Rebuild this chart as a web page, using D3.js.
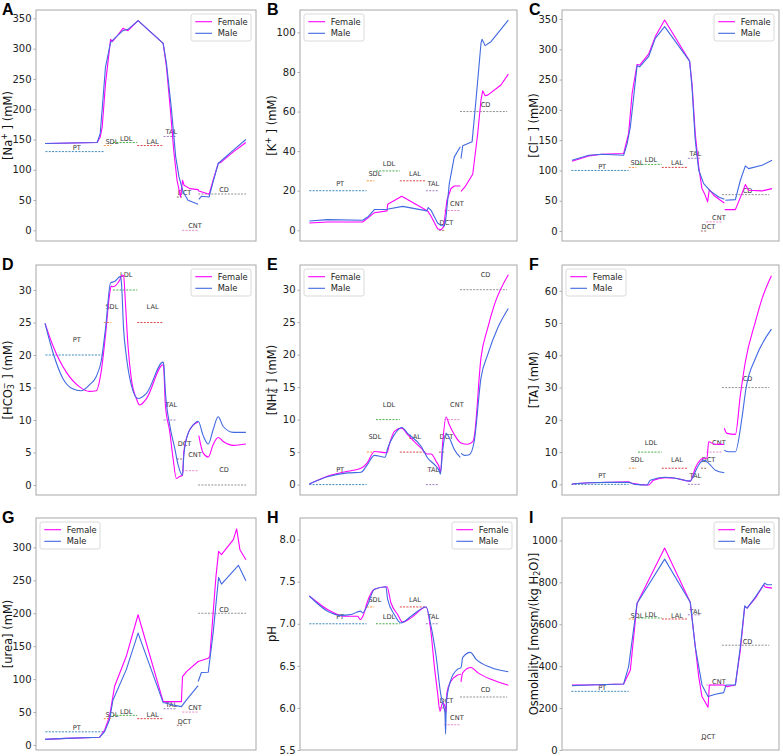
<!DOCTYPE html>
<html><head><meta charset="utf-8">
<script src="https://cdn.jsdelivr.net/npm/d3@7"></script>
<style>body{margin:0;background:#fff}</style>
</head><body><svg id="c" width="783" height="756"></svg>
<script>
// ---- nephron segments (x in % of axis width) ----
const segNames=["PT","SDL","LDL","LAL","TAL","DCT","CNT","CD"];
const segStart=[4.3,30.8,35.0,46.0,58.0,64.0,66.5,73.7];
const segEnd  =[30.7,34.2,46.0,58.0,64.0,66.5,73.7,95.5];
const segLabelX=[18.5,34.5,41.0,53.0,61.5,67.5,72.3,85.5];
const seriesNames=["Female","Male"];

// ---- A: Na+ ----
const naFemale=[[4.1,143.3],[27.8,145],[29.2,154],[30.1,171],[31.6,242.6],[33.9,315.3],[34.7,311.5],[37.2,322.5],[39.5,333.5],[41.8,329.7],[46.4,346.2],[57.8,308.7],[59.3,270],[61.1,198.5],[62.6,132],[64.1,82.7],[65.7,55.1],[66.6,82.7],[67.3,74.4],[69.9,68.9],[73.7,67.3],[74.0,65],[78.7,59.5],[80.5,82.7],[82.8,110.3],[84.3,113],[89.7,129.5],[95.4,145]];
const naMale=[[4.1,143.3],[27.8,145],[29.2,160],[30.4,215],[31.6,270],[33.9,310.4],[35.7,317],[39.5,329.7],[41.8,331.9],[46.4,346.2],[57.8,308.7],[59.3,275.6],[61.6,198.5],[63.5,121.3],[65.0,88.2],[66.9,63.4],[69.1,49.6],[73.7,43],null,[74.0,51.3],[75.2,56.2],[78.7,55.1],[80.5,80],[82.8,110.3],[89.7,132.3],[95.4,150]];
const naRef=[130,140,145,140,155,55,0,60];
const naTicks=[0,50,100,150,200,250,300,350];

// ---- B: K+ ----
const kFemale=[[4.3,3.7],[12.7,4.2],[28.9,4.2],[30.9,5.9],[34.3,8.9],[40.1,9.8],[40.4,13.2],[46.9,17.2],[58.8,9.8],[60.4,7.1],[63.4,0.8],[65.0,0.3],[66.2,1.7],[67.7,15.2],[69.6,21.1],[71.1,22.4],[73.9,22.4],null,[74.2,19.7],[76.0,21.9],[79.6,28.3],[81.9,48.9],[83.4,65.8],[84.2,70.5],[85.3,68],[86.5,68.3],[92.6,73.4],[96.0,78.9]];
const kMale=[[4.3,4.7],[12.7,5.4],[28.9,5.1],[31.2,6.7],[34.3,10.5],[40.1,10.6],[47.3,12.1],[58.5,9.8],[59.1,11.5],[60.4,10.1],[63.4,3.7],[65.0,2.4],[66.5,2.2],[67.3,6.7],[68.8,23.6],[71.1,37.1],[73.9,42.2],null,[74.2,36.3],[75.0,42.7],[79.3,44.7],[81.1,65.8],[83.4,94.4],[83.9,96.5],[85.3,93.3],[88.0,95.3],[96.0,106.2]];
const kRef=[20,25,30,25,20,0,10,60];
const kTicks=[0,20,40,60,80,100];

// ---- C: Cl- ----
const clFemale=[[4.6,115.2],[12.3,124],[18.4,126.8],[28.4,127.9],[30.7,161],[32.3,227],[34.6,275],[35.8,274],[39.9,292],[43.0,321],[47.3,348.4],[58.8,280.6],[59.9,243.7],[61.4,161],[63.0,105.8],[64.5,70],[65.7,61.7],[67.1,48],[67.9,68.4],[69.9,59],[73.0,50.7],[74.8,46.3],null,[75.0,35.3],[79.9,35.3],[82.9,61.7],[84.5,76.6],[86.0,67.3],[92.2,66.2],[96.8,70]];
const clMale=[[4.6,116.9],[12.3,125],[18.4,126.8],[28.4,125],[30.0,144],[31.5,172],[34.6,273],[35.8,271],[39.9,287.8],[43.0,318],[47.3,337.4],[58.8,280.6],[59.9,238],[61.4,150],[63.0,100.3],[65.3,78.3],[68.3,66.2],[72.2,56.2],[74.8,52.4],null,[75.3,50.7],[79.9,51.8],[82.2,83.8],[84.5,107.5],[86.0,103],[92.2,108.6],[96.8,116.9]];
const clRef=[100,105,110,105,120,0,15,60];
const clTicks=[0,50,100,150,200,250,300,350];

// ---- D: HCO3- ----
const hcoFemale=[[4.1,24.87],[7.6,21.5],[13.7,17.4],[19.8,15.1],[24.3,14.4],[27.4,14.5],[29.6,17.4],[31.6,23.1],[33.4,29.2],[34.2,30.6],[35.0,30.5],[38.0,31.5],[39.2,32.3],[39.8,32.2],[40.7,27.7],[41.8,21.5],[43.3,16.4],[45.6,13.3],[47.1,12.3],[50.2,13.3],[57.8,18.5],[58.1,17.9],[58.8,12.3],[60.8,8.2],[62.3,4.1],[63.8,1.0],[65.3,1.3],[66.6,1.5],[67.2,5.1],[69.1,7.9],[71.4,9.2],[73.7,9.7],null,[74.0,7.6],[76.0,4.9],[78.3,4.3],[80.5,6.2],[82.8,7.3],[85.1,6.7],[89.7,6.1],[95.4,6.3]];
const hcoMale=[[4.1,24.87],[7.6,20.5],[12.2,16.4],[16.7,14.8],[20.5,14.5],[24.3,15.4],[27.4,16.7],[29.6,19],[31.6,24.1],[33.9,31.1],[35.7,31.3],[38.4,32.1],[38.9,30.8],[39.8,24.1],[41.0,20],[43.3,15.4],[46.4,13.3],[50.2,14.1],[57.8,18.9],[58.1,18.5],[58.8,14.4],[60.8,9.2],[63.1,5.6],[64.6,3.1],[66.6,1.5],[67.2,4.6],[69.1,7.9],[71.4,9.2],[73.7,9.8],[76.0,7.6],[78.3,6.3],[80.5,8.5],[82.8,10.5],[85.1,9.0],[89.7,8.1],[95.4,8.1]];
const hcoRef=[20,25,30,25,10,4,2.2,0];
const hcoTicks=[0,5,10,15,20,25,30];

// ---- E: NH4+ ----
const nhFemale=[[4.3,0.1],[12.7,1.3],[22.0,2.05],[28.1,2.5],[30.9,3.3],[34.3,5.1],[40.1,4.9],[41.2,6.2],[43.5,8.2],[46.9,8.7],[49.6,7.7],[55.8,5.6],[58.8,4.7],[60.4,4.7],[62.7,3.6],[64.2,2.6],[64.7,1.8],[65.7,6.2],[67.3,10.4],[68.8,9.2],[71.1,7.7],[74.2,6.4],[77.3,6.2],[79.6,6.6],[80.3,7.4],[83.4,19.5],[86.5,24.1],[89.6,27.7],[96.0,32.3]];
const nhMale=[[4.3,0.1],[12.7,1.2],[22.0,1.8],[28.1,1.9],[30.9,3.0],[34.3,4.5],[39.2,4.2],[40.4,5.6],[43.5,7.7],[46.9,8.8],[49.6,7.9],[55.8,5.9],[58.8,4.1],[61.9,3.1],[64.2,2.1],[64.7,1.6],[65.7,5.1],[67.3,7.9],[68.8,7.2],[71.1,5.4],[73.9,4.2],null,[74.2,4.8],[75.7,4.5],[78.0,4.6],[80.3,6.7],[83.4,16.4],[86.5,20],[91.1,24.1],[96.0,27.1]];
const nhRef=[0,5,10,5,0,5,10,30];
const nhTicks=[0,5,10,15,20,25,30];

// ---- F: TA ----
const taFemale=[[4.6,0.1],[12.3,0.5],[21.5,0.6],[30.7,0.8],[32.3,0.3],[39.9,-0.2],[42.2,1.3],[47.6,2.1],[52.2,1.9],[59.1,1.0],[59.9,1.9],[61.4,5.0],[63.7,7.5],[65.3,8.1],[66.8,8.1],[67.6,13.2],[69.9,12.5],[72.2,12.4],[74.5,12.4],null,[74.8,17.4],[76.0,15.8],[79.9,15.5],[82.2,27.7],[84.5,38],[89.1,50.4],[92.2,57.6],[96.5,64.7]];
const taMale=[[4.6,0.1],[12.3,0.5],[21.5,0.6],[30.7,0.6],[33.8,0],[39.2,-0.2],[40.7,1.3],[47.6,2.2],[52.2,1.9],[59.1,1.0],[60.7,2.9],[63.0,6.0],[65.3,7.5],[67.6,6.5],[70.7,4.4],[74.8,3.6],null,[74.8,10.6],[76.8,10.1],[79.9,10.1],[82.9,20.5],[84.8,29.8],[89.1,39],[96.5,48.1]];
const taRef=[0,5,10,5,0,5,10,30];
const taTicks=[0,10,20,30,40,50,60];

// ---- G: urea ----
const ureaFemale=[[4.1,8.6],[13.7,10.1],[28.9,11.7],[31.2,22.8],[33.4,43.1],[35.7,88.7],[41.0,134.3],[46.4,197.7],[57.8,65.9],[59.3,65.9],[66.1,65.9],[66.6,103.9],[68.4,111.5],[73.7,126.7],[78.3,131.8],[79.0,134.3],[81.8,256],[83.0,294],[84.3,289],[89.7,311.7],[91.2,328],[92.7,296.5],[95.4,281.3]];
const ureaMale=[[4.1,8.6],[13.7,10.1],[28.9,11.7],[31.2,20.3],[33.4,38],[35.0,68.4],[41.0,114],[46.4,169.8],[57.8,64.4],[62.3,60.8],[66.1,58.3],[68.4,68.4],[73.7,90.2],null,[73.7,96.3],[75.2,110],[78.3,110.5],[80.5,169.8],[83.0,254.4],[84.3,244.3],[92.0,272.7],[95.4,249.4]];
const ureaRef=[20,40,45,40,55,30,50,200];
const ureaTicks=[0,50,100,150,200,250,300];

// ---- H: pH ----
const phFemale=[[4.3,7.33],[12.7,7.17],[20.4,7.09],[26.6,7.09],[27.8,7.05],[29.3,7.11],[30.9,7.25],[34.3,7.41],[40.1,7.44],[41.9,7.25],[45.0,7.11],[47.3,7.02],[51.2,7.07],[58.1,7.20],[60.4,6.89],[61.9,6.50],[63.4,6.18],[64.5,5.96],[65.7,6.06],[66.8,6.02],[67.3,5.94],[67.7,6.18],[69.6,6.32],[72.6,6.39],[74.2,6.40],null,[74.2,6.31],[75.0,6.42],[78.8,6.48],[81.9,6.42],[88.0,6.34],[96.0,6.27]];
const phMale=[[4.3,7.33],[12.7,7.15],[18.9,7.10],[23.5,7.11],[27.8,7.15],[28.9,7.13],[30.9,7.21],[34.3,7.41],[39.6,7.44],[40.4,7.29],[43.5,7.11],[46.5,7.01],[51.2,7.09],[58.1,7.20],[60.4,6.97],[62.7,6.62],[65.0,6.14],[65.7,6.06],[66.8,5.94],[67.1,5.69],[67.4,6.06],[69.6,6.34],[72.6,6.46],[74.2,6.48],[75.0,6.60],[78.5,6.66],[81.1,6.58],[88.0,6.48],[96.0,6.43]];
const phRef=[7.0,7.2,7.0,7.2,7.0,6.0,5.8,6.13];
const phTicks=[5.5,6.0,6.5,7.0,7.5,8.0];

// ---- I: osmolality ----
const osmFemale=[[4.6,310.5],[12.3,310.5],[28.4,315],[31.5,382],[34.6,700.6],[47.3,963.4],[59.1,705.4],[60.7,557],[63.0,350],[64.5,254.8],[67.3,203.8],[67.9,310.5],[74.5,310.5],[76.0,302.5],[79.9,310.5],[82.2,477.7],[84.2,684.7],[85.3,676.8],[89.1,724.5],[92.9,788.2],[93.7,777],[96.8,772.3]];
const osmMale=[[4.6,307.3],[12.3,310.5],[28.4,315],[30.7,398],[34.6,700.6],[47.3,910.8],[59.1,705.4],[61.4,493.6],[64.5,310.5],[67.3,254.8],[70.7,265.9],[74.5,273.9],[75.6,310.5],[79.9,310.5],[82.2,493.6],[84.2,687.9],[85.3,676.8],[89.1,729.3],[93.4,796.2],[94.5,788.2],[96.8,788.2]];
const osmRef=[280,625,630,625,645,50,310,500];
const osmTicks=[0,200,400,600,800,1000];

// ---- panel table ----
const panels=[
 {letter:"A",lab:[["[Na",""],["+","sup"],[" ] (mM)",""]],f:naFemale,m:naMale,ref:naRef,dom:[-17.6,363.8],ticks:naTicks,leg:"right",lift:6.6},
 {letter:"B",lab:[["[K",""],["+","sup"],[" ] (mM)",""]],f:kFemale,m:kMale,ref:kRef,dom:[-5.4,111.3],ticks:kTicks,leg:"left",lift:3.5},
 {letter:"C",lab:[["[Cl",""],["\u2212","sup"],[" ] (mM)",""]],f:clFemale,m:clMale,ref:clRef,dom:[-16.5,364.9],ticks:clTicks,leg:"right",lift:6.5},
 {letter:"D",lab:[["[HCO",""],["3","sub"],["\u2212","supst"],[" ] (mM)",""]],f:hcoFemale,m:hcoMale,ref:hcoRef,dom:[-1.54,33.85],ticks:hcoTicks,leg:"right",lift:2.35,smooth:true},
 {letter:"E",lab:[["[NH",""],["4","sub"],["+","supst"],[" ] (mM)",""]],f:nhFemale,m:nhMale,ref:nhRef,dom:[-1.6,33.8],ticks:nhTicks,leg:"left",lift:2.3,smooth:true},
 {letter:"F",lab:[["[TA] (mM)",""]],f:taFemale,m:taMale,ref:taRef,dom:[-3.3,68.0],ticks:taTicks,leg:"left",lift:2.7,smooth:true},
 {letter:"G",lab:[["[urea] (mM)",""]],f:ureaFemale,m:ureaMale,ref:ureaRef,dom:[-7.6,344.6],ticks:ureaTicks,leg:"left",lift:5.5},
 {letter:"H",lab:[["pH",""]],f:phFemale,m:phMale,ref:phRef,dom:[5.5,8.257],ticks:phTicks,leg:"right",lift:0.08,fmt:d3.format(".1f"),smooth:true},
 {letter:"I",lab:[["Osmolality [mosm/(kg H",""],["2","sub"],["O)]",""]],f:osmFemale,m:osmMale,ref:osmRef,dom:[0,1107],ticks:osmTicks,leg:"right",lift:14}
];

// ---- layout / style ----
const colX=[[36,256],[300,517],[562,779]];
const rowY=[[10,241],[265,495],[518,750]];
const segColors=["#1f77b4","#ff7f0e","#2ca02c","#d62728","#9467bd","#8c564b","#e377c2","#7f7f7f"];
const serColors=["#ff00ff","#4169e1"];
const FONT="DejaVu Sans, sans-serif";

const svg=d3.select("#c");
svg.append("rect").attr("width",783).attr("height",756).attr("fill","#fff");

panels.forEach((p,i)=>{
  const [x0,x1]=colX[i%3], [y0,y1]=rowY[Math.floor(i/3)];
  const x=d3.scaleLinear().domain([0,100]).range([x0,x1]);
  const y=d3.scaleLinear().domain(p.dom).range([y1,y0]);
  const g=svg.append("g");
  const clipId="clip"+i;
  g.append("clipPath").attr("id",clipId).append("rect").attr("x",x0).attr("y",y0).attr("width",x1-x0).attr("height",y1-y0);

  // y axis
  const ax=g.append("g").attr("transform",`translate(${x0},0)`)
    .call(d3.axisLeft(y).tickValues(p.ticks).tickSize(2.5).tickPadding(2).tickFormat(p.fmt||d3.format("d")));
  ax.select(".domain").remove();
  ax.selectAll(".tick line").attr("stroke","#999").attr("stroke-width",0.8);
  ax.selectAll("text").attr("font-family",FONT).attr("font-size",10).attr("fill","#222");

  const plot=g.append("g").attr("clip-path",`url(#${clipId})`);
  // reference segments
  segNames.forEach((s,k)=>{
    plot.append("line").attr("x1",x(segStart[k])).attr("x2",x(segEnd[k]))
      .attr("y1",y(p.ref[k])).attr("y2",y(p.ref[k]))
      .attr("stroke",segColors[k]).attr("stroke-width",1).attr("stroke-dasharray","2,1.3").attr("opacity",0.85);
    plot.append("text").attr("x",x(segLabelX[k])).attr("y",y(p.ref[k]+p.lift))
      .attr("text-anchor","middle").attr("dominant-baseline","central")
      .attr("font-family",FONT).attr("font-size",6.6).attr("fill","#333").text(s);
  });
  // curves
  const line=d3.line().defined(d=>d!==null).x(d=>x(d[0])).y(d=>y(d[1]))
    .curve(p.smooth?d3.curveMonotoneX:d3.curveLinear);
  [p.f,p.m].forEach((ser,j)=>{
    plot.append("path").datum(ser).attr("d",line).attr("fill","none")
      .attr("stroke",serColors[j]).attr("stroke-width",1.1).attr("stroke-linejoin","round");
  });
  // frame
  g.append("rect").attr("x",x0).attr("y",y0).attr("width",x1-x0).attr("height",y1-y0)
    .attr("fill","none").attr("stroke","#a8a8a8").attr("stroke-width",1);

  // y label
  const cy=(y0+y1)/2, lx=x0-28;
  const t=g.append("text").attr("transform",`translate(${lx},${cy}) rotate(-90)`)
    .attr("text-anchor","middle").attr("dominant-baseline","central")
    .attr("font-family",FONT).attr("font-size",11.5).attr("fill","#111");
  let shift=0;
  p.lab.forEach(([txt,kind])=>{
    const ts=t.append("tspan").text(txt);
    let target=0;
    if(kind==="sup"){target=-4.5;ts.attr("font-size",8);}
    else if(kind==="sub"){target=2.5;ts.attr("font-size",8);}
    else if(kind==="supst"){target=-4.5;ts.attr("font-size",8).attr("dx",-5);}
    ts.attr("dy",target-shift); shift=target;
  });

  // panel letter
  svg.append("text").attr("x",(i%3===0?2:colX[i%3][0]-33)).attr("y",y0+4.5)
    .attr("font-family","Liberation Sans, Arial, sans-serif").attr("font-weight","bold")
    .attr("font-size",16).attr("fill","#000").text(p.letter);

  // legend
  const lw=60, lh=27;
  const lxp=p.leg==="right"? x1-5-lw : x0+4;
  const lyp=y0+4;
  const lg=g.append("g").attr("transform",`translate(${lxp},${lyp})`);
  lg.append("rect").attr("width",lw).attr("height",lh).attr("rx",2)
    .attr("fill","#fff").attr("fill-opacity",0.8).attr("stroke","#d0d0d0").attr("stroke-width",0.8);
  seriesNames.forEach((n,j)=>{
    const yy=7.7+j*11.6;
    lg.append("line").attr("x1",4.3).attr("x2",21).attr("y1",yy).attr("y2",yy)
      .attr("stroke",serColors[j]).attr("stroke-width",1.1);
    lg.append("text").attr("x",26.7).attr("y",yy).attr("dominant-baseline","central")
      .attr("font-family",FONT).attr("font-size",8.3).attr("fill","#222").text(n);
  });
});
</script></body></html>
